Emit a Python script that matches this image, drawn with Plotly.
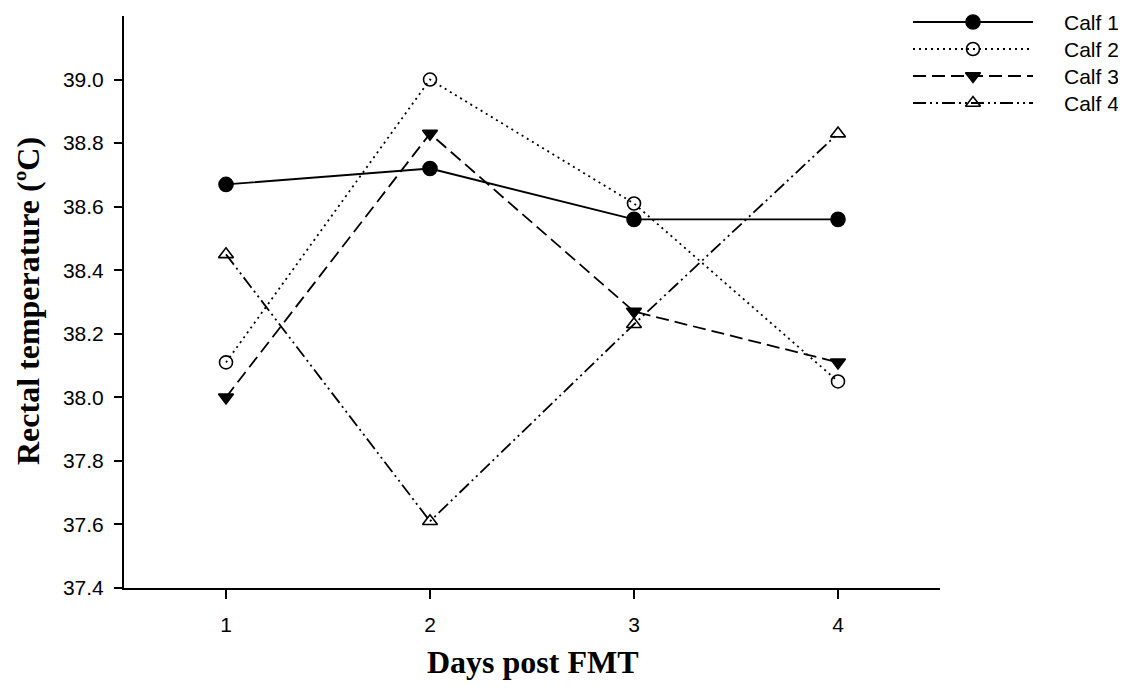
import plotly.graph_objects as go

days = [1, 2, 3, 4]
names = ["Calf 1", "Calf 2", "Calf 3", "Calf 4"]
calf1 = [38.67, 38.72, 38.56, 38.56]
calf2 = [38.11, 39.00, 38.61, 38.05]
calf3 = [38.00, 38.83, 38.27, 38.11]
calf4 = [38.45, 37.61, 38.23, 38.83]
y_ticks = [37.4, 37.6, 37.8, 38.0, 38.2, 38.4, 38.6, 38.8, 39.0]

series = [calf1, calf2, calf3, calf4]
styles = [
    dict(dash="solid", symbol="circle", size=14),
    dict(dash="2px,4px", symbol="circle-open", size=13),
    dict(dash="13px,6px", symbol="triangle-down", size=13),
    dict(dash="13px,4px,2px,4px,2px,4px", symbol="triangle-up-open", size=13),
]

# page body has an 8px margin; compensate so that target page pixels match
OFF = 8
W, H = 1110, 676
ml, mr, mt, mb = 116, 12, 2, 96
pw = W - ml - mr
ph = H - mt - mb


def px_x(p):
    return (p - OFF - ml) / pw


def px_y(p):
    return (H - mb - (p - OFF)) / ph


fig = go.Figure()
for name, vals, st in zip(names, series, styles):
    fig.add_trace(go.Scatter(
        x=days, y=vals, mode="lines+markers", name=name,
        line=dict(color="black", width=1.8, dash=st["dash"]),
        marker=dict(symbol=st["symbol"], size=st["size"], color="black",
                    line=dict(color="black", width=1.6)),
        cliponaxis=False, showlegend=False,
    ))

# custom legend drawn in a separate small subplot (page-pixel coordinates)
leg_rows = [22, 49, 76, 103]
for name, st, ry in zip(names, styles, leg_rows):
    fig.add_trace(go.Scatter(
        x=[913, 1033], y=[ry, ry], mode="lines", xaxis="x2", yaxis="y2",
        line=dict(color="black", width=1.8, dash=st["dash"]),
        showlegend=False, hoverinfo="skip",
    ))
    fig.add_trace(go.Scatter(
        x=[973], y=[ry], mode="markers", xaxis="x2", yaxis="y2",
        marker=dict(symbol=st["symbol"], size=st["size"], color="black",
                    line=dict(color="black", width=1.6)),
        showlegend=False, hoverinfo="skip", cliponaxis=False,
    ))
    fig.add_annotation(x=1062, y=ry, xref="x2", yref="y2", text=name,
                       showarrow=False, xanchor="left", yanchor="middle",
                       font=dict(family="Liberation Sans, Arial", size=21, color="black"))

# axis titles
fig.add_annotation(x=px_x(533), y=px_y(662), xref="paper", yref="paper",
                   text="<b>Days post FMT</b>", showarrow=False,
                   xanchor="center", yanchor="middle",
                   font=dict(family="Liberation Serif, Times New Roman", size=32, color="black"))
fig.add_annotation(x=px_x(28), y=px_y(301), xref="paper", yref="paper",
                   text="<b>Rectal temperature (ºC)</b>", showarrow=False, textangle=-90,
                   xanchor="center", yanchor="middle",
                   font=dict(family="Liberation Serif, Times New Roman", size=32, color="black"))

fig.update_layout(
    width=W, height=H,
    margin=dict(l=ml, r=mr, t=mt, b=mb, autoexpand=False),
    plot_bgcolor="white", paper_bgcolor="white",
    showlegend=False,
    font=dict(family="Liberation Sans, Arial", size=21, color="black"),
    xaxis=dict(
        domain=[0, px_x(940)], range=[0.5, 4.5], automargin=False,
        tickmode="array", tickvals=days, ticktext=[str(d) for d in days],
        ticks="outside", ticklen=9, tickwidth=2, tickcolor="black",
        showline=True, linecolor="black", linewidth=2,
        showgrid=False, zeroline=False, ticklabelstandoff=8,
        tickfont=dict(family="Liberation Sans, Arial", size=21, color="black"),
    ),
    yaxis=dict(
        domain=[px_y(588), px_y(16)], range=[37.4, 39.2], automargin=False,
        tickmode="array", tickvals=y_ticks, ticktext=[f"{v:.1f}" for v in y_ticks],
        ticks="outside", ticklen=8, tickwidth=2, tickcolor="black",
        showline=True, linecolor="black", linewidth=2,
        showgrid=False, zeroline=False, ticklabelstandoff=6,
        tickfont=dict(family="Liberation Sans, Arial", size=21, color="black"),
    ),
    xaxis2=dict(domain=[px_x(880), 1], range=[880, ml + pw + OFF], anchor="y2",
                visible=False, fixedrange=True),
    yaxis2=dict(domain=[px_y(120), 1], range=[120, mt + OFF], anchor="x2",
                visible=False, fixedrange=True),
)

fig.write_html("out.html")
